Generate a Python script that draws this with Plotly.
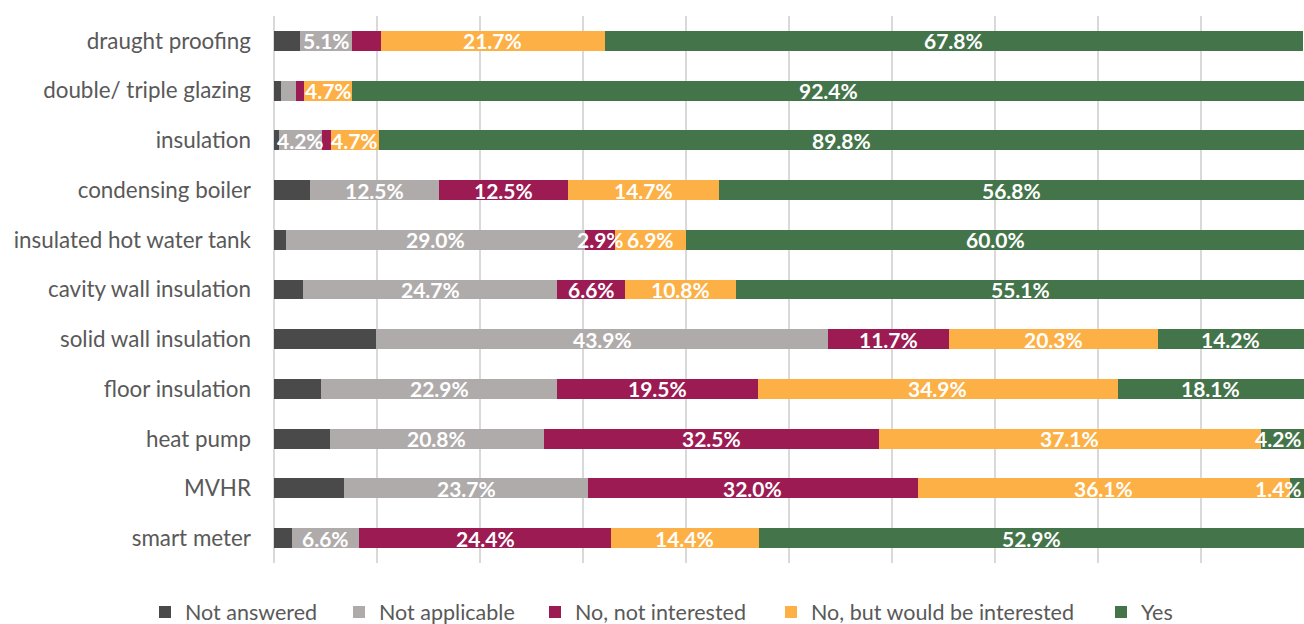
import plotly.graph_objects as go

# Survey measures (top to bottom) and the share of answers in each group, in %
measures = [
    "draught proofing", "double/ triple glazing", "insulation", "condensing boiler",
    "insulated hot water tank", "cavity wall insulation", "solid wall insulation",
    "floor insulation", "heat pump", "MVHR", "smart meter",
]

not_answered = [2.5, 0.7, 0.5, 3.5, 1.2, 2.8, 9.9, 4.6, 5.4, 6.8, 1.7]
not_applicable = [5.1, 1.4, 4.2, 12.5, 29.0, 24.7, 43.9, 22.9, 20.8, 23.7, 6.6]
not_interested = [2.8, 0.8, 0.8, 12.5, 2.9, 6.6, 11.7, 19.5, 32.5, 32.0, 24.4]
would_be_interested = [21.7, 4.7, 4.7, 14.7, 6.9, 10.8, 20.3, 34.9, 37.1, 36.1, 14.4]
yes = [67.8, 92.4, 89.8, 56.8, 60.0, 55.1, 14.2, 18.1, 4.2, 1.4, 52.9]

series = [
    ("Not answered", not_answered, "#4A4A4A", False),
    ("Not applicable", not_applicable, "#AFABAB", True),
    ("No, not interested", not_interested, "#9B1B52", True),
    ("No, but would be interested", would_be_interested, "#FCB045", True),
    ("Yes", yes, "#44744A", True),
]

# left edge (px) of each legend entry along the bottom row
legend_left_px = [145, 339, 535, 771, 1101]

# small segments are left without a value label (except "Yes")
LABEL_MIN = 2.9
W, H = 1304, 624

fig = go.Figure()
legend_layouts = {}
for k, (name, vals, color, labelled) in enumerate(series):
    legend_id = "legend" if k == 0 else f"legend{k + 1}"
    fig.add_trace(go.Bar(
        name=name, y=measures, x=vals, orientation="h",
        marker=dict(color=color, line=dict(width=0)),
        hoverinfo="x+y+name", legend=legend_id,
    ))
    legend_layouts[legend_id] = dict(
        orientation="h", xref="container", x=legend_left_px[k] / W, xanchor="left",
        yref="container", y=0.052, yanchor="top",
        font=dict(family="Lato", size=21.5, color="#595959"),
        bgcolor="rgba(0,0,0,0)",
    )

# value labels, centred on each segment and drawn above all bars;
# narrow segments at the right end get their label pinned to the edge
annotations = []
left = [0.0] * len(measures)
for name, vals, color, labelled in series:
    for i, v in enumerate(vals):
        if labelled and (v >= LABEL_MIN or name == "Yes"):
            at_edge = left[i] + v > 99.5 and v < 6
            annotations.append(dict(
                x=100 if at_edge else left[i] + v / 2,
                xanchor="right" if at_edge else "center",
                y=measures[i], xref="x", yref="y",
                text=f"{v:.1f}%", showarrow=False,
                font=dict(family="Lato", size=21, color="white", weight="bold"),
            ))
        left[i] += v

fig.update_layout(
    barmode="stack",
    bargap=0.6,
    width=W, height=H,
    margin=dict(l=274, r=0, t=16, b=61, autoexpand=False),
    paper_bgcolor="white", plot_bgcolor="white",
    font=dict(family="Lato", size=22, color="#595959"),
    annotations=annotations,
    showlegend=True,
    xaxis=dict(
        range=[0, 100], dtick=10, showticklabels=False,
        showgrid=True, gridcolor="#D9D9D9", gridwidth=1.5,
        zeroline=True, zerolinecolor="#D9D9D9", zerolinewidth=1.5,
        showline=False, fixedrange=True,
    ),
    yaxis=dict(
        autorange="reversed", showgrid=False, showline=False, zeroline=False,
        ticks="", ticklabelstandoff=22,
        tickfont=dict(family="Lato", size=22.4, color="#595959"),
    ),
    **legend_layouts,
)

fig.write_html("out.html")
